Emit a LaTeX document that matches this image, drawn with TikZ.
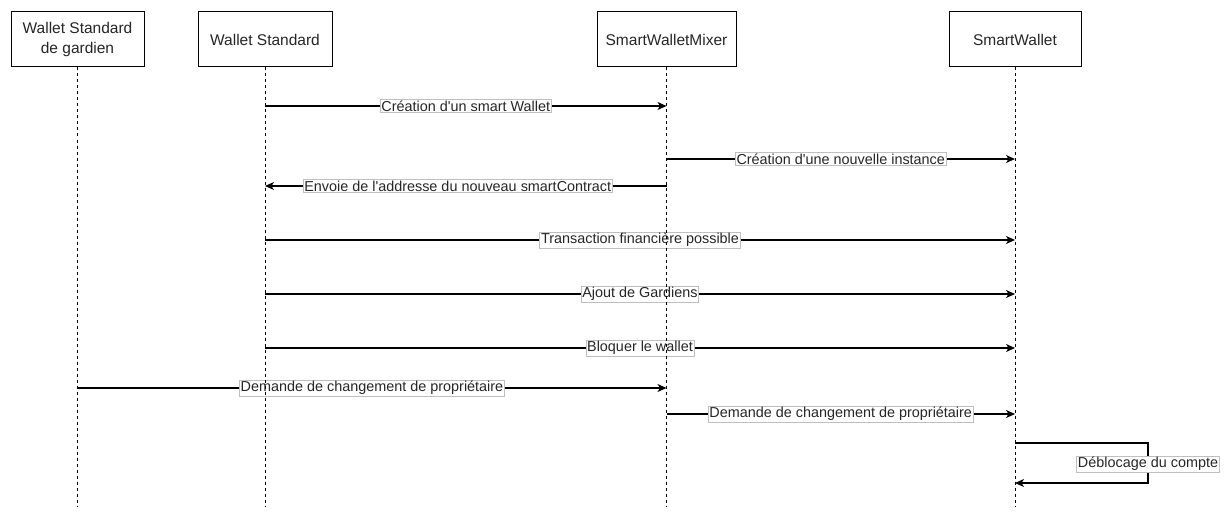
\documentclass[tikz,border=0pt]{standalone}
\usepackage{fontspec}
\setmainfont{Liberation Sans}
\usetikzlibrary{arrows.meta,calc}
\newcommand{\aq}{\textquotesingle}
\begin{document}
\begin{tikzpicture}[x=1pt,y=-1pt,
  actor/.style={draw=black,line width=1pt,fill=white,minimum height=55pt,align=center,
    font=\fontsize{15.5}{19.5}\selectfont,text=black!85,inner sep=0pt},
  life/.style={line width=1pt,dash pattern=on 3pt off 3pt},
  msg/.style={line width=1.2pt,-{Stealth[length=9pt,width=8pt,inset=2.5pt]}},
  lbl/.style={draw=black!25,line width=0.8pt,fill=white,inner sep=1.2pt,
    font=\fontsize{14.4}{16}\selectfont,text=black!85}]
\useasboundingbox (0,0) rectangle (1228,516);
% actors
\node[actor,minimum width=133pt] (a1) at (77.5,39.5) {Wallet Standard\\de gardien};
\node[actor,minimum width=134pt] (a2) at (265,39.5) {Wallet Standard};
\node[actor,minimum width=139pt] (a3) at (666.5,39.5) {SmartWalletMixer};
\node[actor,minimum width=132pt] (a4) at (1015,39.5) {SmartWallet};
% lifeline ends
\coordinate (e1) at (77.5,506);
\coordinate (e2) at (265,506);
\coordinate (e3) at (666.5,506);
\coordinate (e4) at (1015,506);
% message endpoints
\coordinate (m1a) at (265,106);   \coordinate (m1b) at (666.5,106);
\coordinate (m2a) at (666.5,159); \coordinate (m2b) at (1015,159);
\coordinate (m3a) at (666.5,186); \coordinate (m3b) at (265,186);
\coordinate (m4a) at (265,240);   \coordinate (m4b) at (1015,240);
\coordinate (m5a) at (265,294);   \coordinate (m5b) at (1015,294);
\coordinate (m6a) at (265,348);   \coordinate (m6b) at (1015,348);
\coordinate (m7a) at (77.5,388);  \coordinate (m7b) at (666.5,388);
\coordinate (m8a) at (666.5,414); \coordinate (m8b) at (1015,414);
\coordinate (s1) at (1015,443);   \coordinate (s2) at (1148,443);
\coordinate (s3) at (1148,483);   \coordinate (s4) at (1015,483);
% messages
\draw[msg] (m1a) -- node[lbl] {Création d\aq un smart Wallet} (m1b);
\draw[msg] (m2a) -- node[lbl] {Création d\aq une nouvelle instance} (m2b);
\draw[msg] (m3a) -- node[lbl,xshift=-8pt] {Envoie de l\aq addresse du nouveau smartContract} (m3b);
\draw[msg] (m4a) -- node[lbl] {Transaction financière possible} (m4b);
\draw[msg] (m5a) -- node[lbl] {Ajout de Gardiens} (m5b);
\draw[msg] (m6a) -- node[lbl] {Bloquer le wallet} (m6b);
\draw[msg] (m7a) -- node[lbl] {Demande de changement de propriétaire} (m7b);
\draw[msg] (m8a) -- node[lbl] {Demande de changement de propriétaire} (m8b);
\draw[msg] (s1) -- (s2) -- (s3) -- (s4);
\node[lbl] (sl) at (1148,464) {Déblocage du compte};
% lifelines
\draw[life] (a1.south) -- (e1);
\draw[life] (a2.south) -- (e2);
\draw[life] (a3.south) -- (e3);
\draw[life] (a4.south) -- (e4);
\end{tikzpicture}
\end{document}
